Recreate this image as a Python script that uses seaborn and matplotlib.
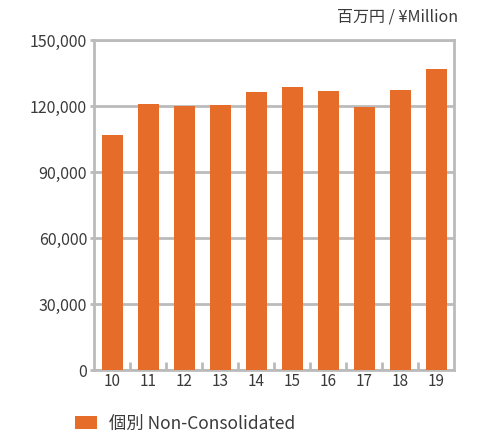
import matplotlib
matplotlib.use("Agg")
import matplotlib.pyplot as plt
import seaborn as sns
import pandas as pd
from matplotlib.ticker import FuncFormatter, FixedLocator

# data
years = ["10", "11", "12", "13", "14", "15", "16", "17", "18", "19"]
non_consolidated = [107000, 121100, 120200, 120600, 126500, 128800, 127000, 119700, 127500, 137000]
y_ticks = [0, 30000, 60000, 90000, 120000, 150000]

bar_color = "#E66C2A"
grid_color = "#BBBBBB"
text_color = "#3A3A3A"

sns.set_theme(style="white")
plt.rcParams['font.family'] = ['Noto Sans CJK JP', 'DejaVu Sans']

df = pd.DataFrame({"year": years, "value": non_consolidated})

fig = plt.figure(figsize=(4.8, 4.36), dpi=100)
ax = fig.add_axes([0.196, 0.151, 0.75, 0.757])

sns.barplot(data=df, x="year", y="value", color=bar_color, width=0.58,
            saturation=1, linewidth=0, label="個別 Non-Consolidated",
            ax=ax, zorder=3)

ax.set_ylim(0, 150000)
ax.set_xlim(-0.5, len(years) - 0.5)
ax.yaxis.set_major_locator(FixedLocator(y_ticks))
ax.yaxis.set_major_formatter(FuncFormatter(lambda v, p: f"{int(v):,}"))
ax.grid(axis="y", color=grid_color, linewidth=2, linestyle="-", zorder=0)
ax.set_axisbelow(True)

for s in ax.spines.values():
    s.set_color(grid_color)
    s.set_linewidth(2)

# little separators between the bars
ax.xaxis.set_minor_locator(FixedLocator([i + 0.5 for i in range(len(years) - 1)]))
ax.tick_params(axis="x", which="minor", direction="in", length=6, width=2,
               color=grid_color, bottom=True)
ax.tick_params(axis="x", which="major", length=0, labelsize=11,
               labelcolor=text_color, pad=2)
ax.tick_params(axis="y", which="major", length=3, width=2, color=grid_color,
               left=True, labelsize=11.5, labelcolor=text_color, pad=2)

ax.set_xlabel("")
ax.set_ylabel("")

fig.text(0.955, 0.962, "百万円 / ¥Million", ha="right", va="center",
         fontsize=11.5, color=text_color)

leg = ax.legend(loc="center left", bbox_to_anchor=(0.156, 0.028),
                bbox_transform=fig.transFigure, frameon=False, fontsize=12.5,
                handlelength=1.25, handleheight=0.8, handletextpad=0.7,
                borderpad=0, borderaxespad=0)
for t in leg.get_texts():
    t.set_color(text_color)

fig.savefig("out.png", dpi=100)
